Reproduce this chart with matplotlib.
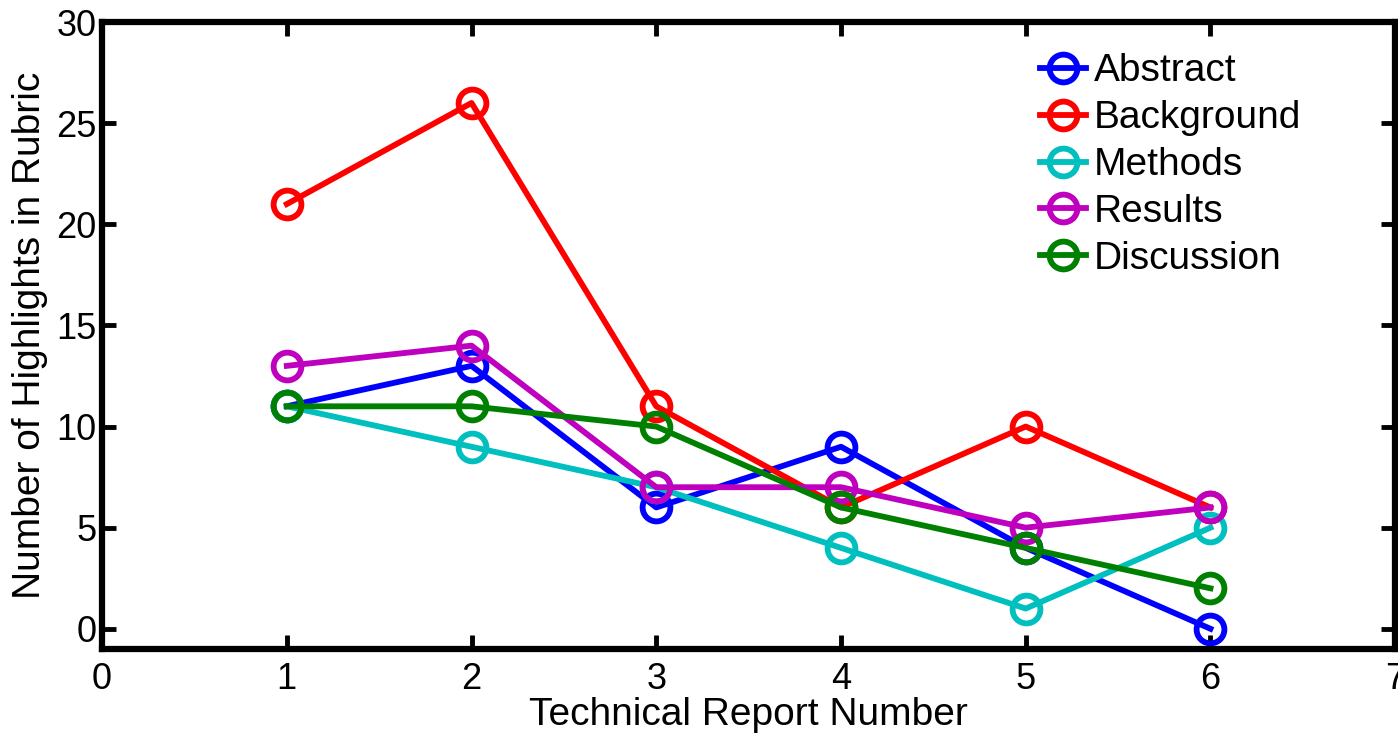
import matplotlib
matplotlib.use("Agg")
import matplotlib.pyplot as plt

plt.rcParams["font.family"] = ["Liberation Sans", "DejaVu Sans"]

reports = [1, 2, 3, 4, 5, 6]
abstract = [11, 13, 6, 9, 4, 0]
background = [21, 26, 11, 6, 10, 6]
methods = [11, 9, 7, 4, 1, 5]
results = [13, 14, 7, 7, 5, 6]
discussion = [11, 11, 10, 6, 4, 2]

series = [
    ("Abstract", abstract, "#0000ff"),
    ("Background", background, "#ff0000"),
    ("Methods", methods, "#00bfbf"),
    ("Results", results, "#bf00bf"),
    ("Discussion", discussion, "#008000"),
]

fig = plt.figure(figsize=(13.98, 7.35), dpi=100)
ax = fig.add_axes([0.073, 0.117, 0.925, 0.853])

for name, vals, color in series:
    ax.plot(reports, vals, "-o", color=color, lw=4.2, ms=20, mew=4.2,
            mfc="none", label=name)

ax.set_xlim(0, 7)
ax.set_ylim(-1, 30)
ax.set_xticks(range(0, 8))
ax.set_yticks(range(0, 31, 5))
ax.tick_params(direction="in", length=10, width=3.5, labelsize=26,
               top=True, right=True, pad=4)
ax.tick_params(axis="x", pad=9)
for s in ax.spines.values():
    s.set_linewidth(4.5)

ax.set_xlabel("Technical Report Number", fontsize=28, labelpad=0)
ax.set_ylabel("Number of Highlights in Rubric", fontsize=28, labelpad=6)

ax.legend(loc="upper left", frameon=False, fontsize=28,
          handlelength=1.2, handletextpad=0.2, labelspacing=0.28,
          borderaxespad=0.0, borderpad=0.0, bbox_to_anchor=(0.725, 0.95))

fig.savefig("out.png", dpi=100)
